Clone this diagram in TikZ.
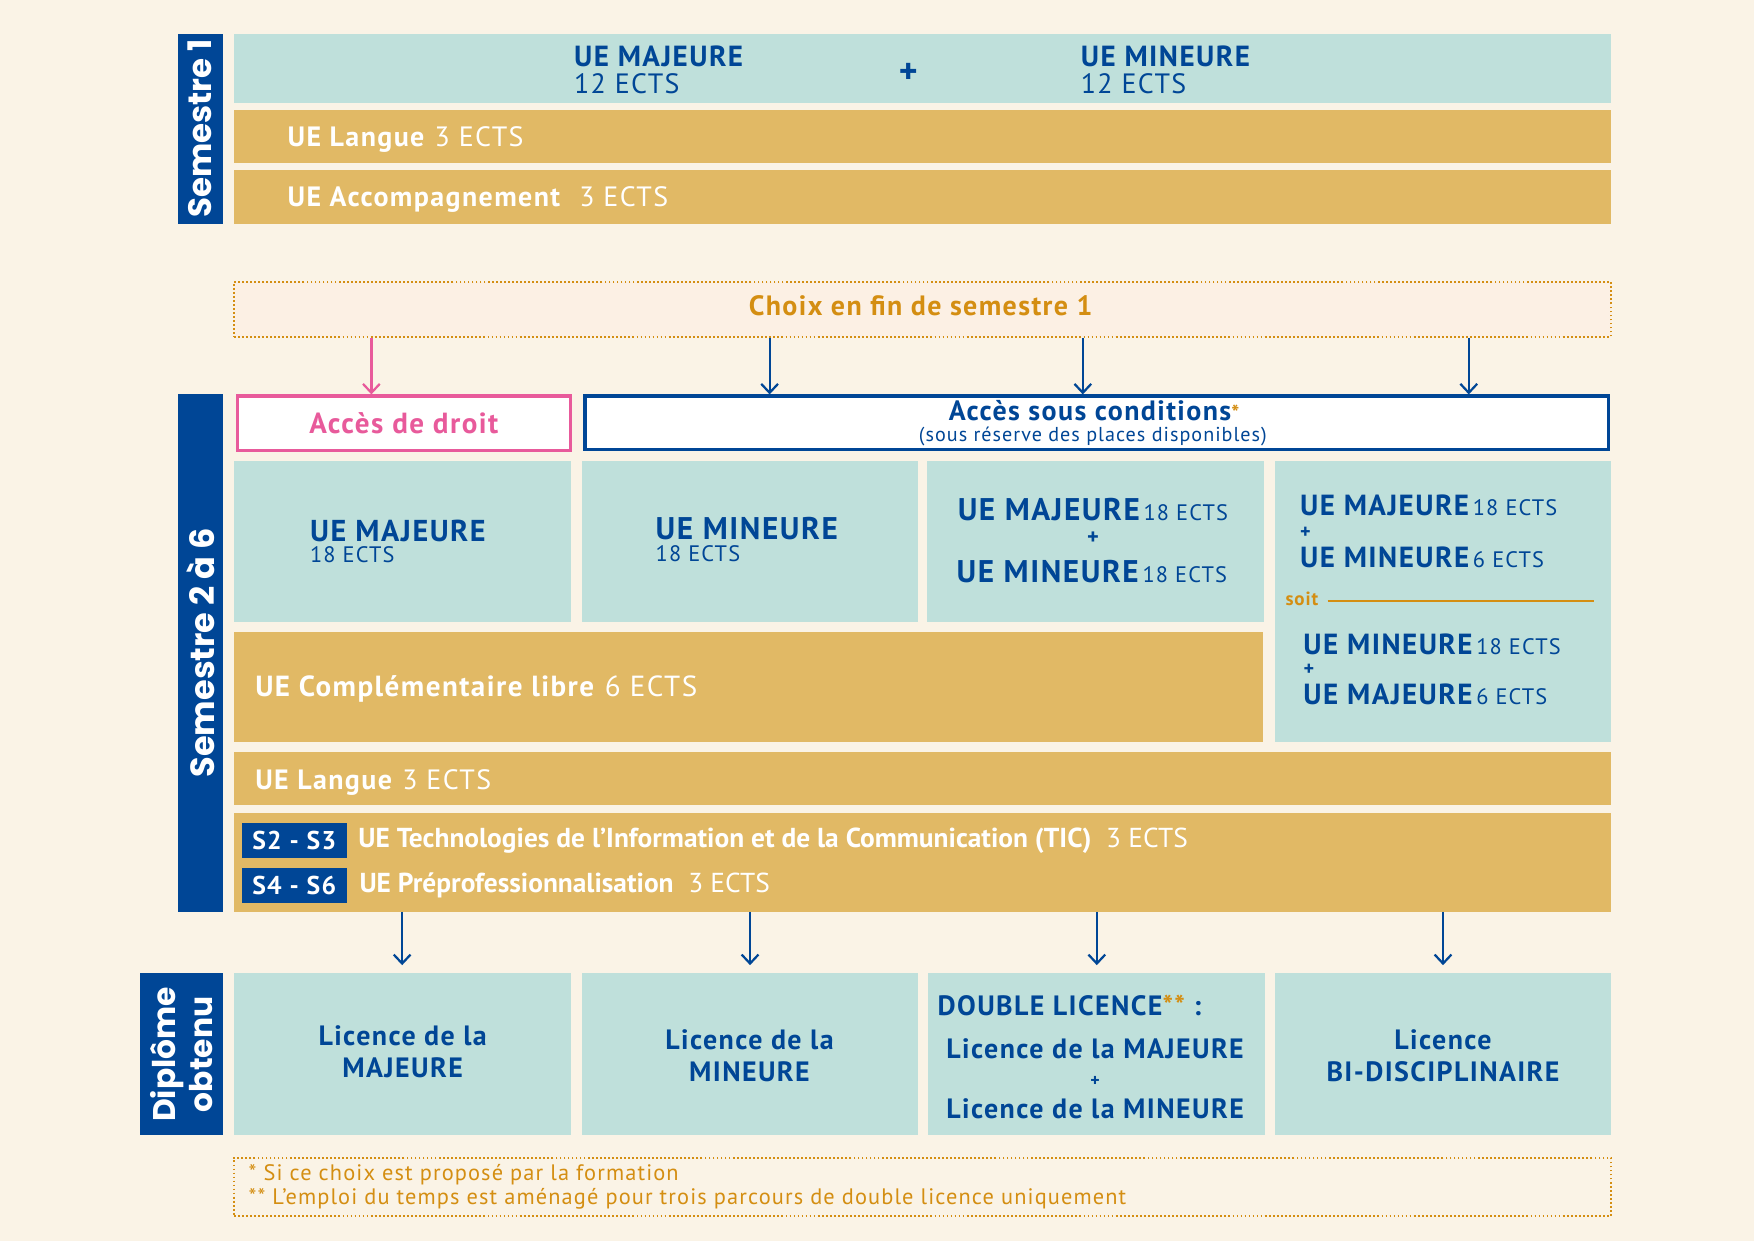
\documentclass[tikz,border=0pt]{standalone}
\usepackage{fontspec}
\setmainfont{PT Sans}[LetterSpace=5]
\newfontfamily\sidefont{Poppins}
\usetikzlibrary{arrows.meta, positioning, fit}

\definecolor{bgcream}{RGB}{250,243,230}
\definecolor{ueteal}{RGB}{191,224,219}
\definecolor{uegold}{RGB}{225,185,101}
\definecolor{uniblue}{RGB}{0,70,150}
\definecolor{accpink}{RGB}{232,90,155}
\definecolor{choixorange}{RGB}{212,142,18}
\definecolor{choixfill}{RGB}{252,240,228}

\newcommand{\fsz}[1]{\fontsize{#1}{#1}\selectfont}
\newcommand{\ects}[1]{{\fontseries{m}\fsz{20}\,#1~ECTS}}

\begin{document}
\begin{tikzpicture}[x=1pt, y=-1pt,
    tealbox/.style={fill=ueteal, inner sep=0pt},
    goldbox/.style={fill=uegold, inner sep=0pt},
    sidebar/.style={fill=uniblue, inner sep=0pt},
    dotbox/.style={draw=choixorange, fill=choixfill, dotted, line width=1.6pt, inner sep=0pt},
    accbox/.style={fill=white, line width=2.8pt, inner sep=0pt},
    goldtxt/.style={text=white, anchor=base west, inner sep=0pt, font=\fsz{25}},
    bluetxt/.style={text=uniblue, inner sep=0pt},
    sidetxt/.style={text=white, rotate=90, font=\sidefont\bfseries\fsz{30}, inner sep=0pt},
    arrow/.style={-{Straight Barb[length=8pt, width=15pt]}, line width=2pt, draw=uniblue},
    tag/.style={fill=uniblue, text=white, minimum width=94pt, minimum height=31pt, inner sep=0pt, font=\bfseries\fsz{23}},
    every node/.style={font=\fsz{25}}
  ]
  \useasboundingbox (0,0) rectangle (1568,1109);
  \fill[bgcream] (0,0) rectangle (1568,1109);

  % Semestre 1
  \node[sidebar, fit={(159,30) (199,200)}] (sem1) {};
  \node[sidetxt, font=\sidefont\bfseries\fsz{29}] (sem1lbl) at (sem1.center) {Semestre 1};
  \node[tealbox, fit={(209,30) (1440,92)}] (s1ue) {};
  \node[bluetxt, anchor=base west, font=\bfseries\fsz{26}] (s1maj) at (513,59) {UE MAJEURE};
  \node[bluetxt, anchor=base west] (s1majects) at (513,84) {12 ECTS};
  \node[bluetxt, font=\bfseries\fsz{32}] (s1plus) at (812,66) {+};
  \node[bluetxt, anchor=base west, font=\bfseries\fsz{26}] (s1min) at (966,59) {UE MINEURE};
  \node[bluetxt, anchor=base west] (s1minects) at (966,84) {12 ECTS};
  \node[goldbox, fit={(209,98) (1440,146)}] (s1lang) {};
  \node[goldtxt] (s1langlbl) at (257,131) {\textbf{UE Langue} 3 ECTS};
  \node[goldbox, fit={(209,152) (1440,200)}] (s1acc) {};
  \node[goldtxt] (s1acclbl) at (257,185) {\textbf{UE Accompagnement}\ \ 3 ECTS};

  % Choix
  \node[dotbox, fit={(209,252) (1440,301)}] (choix) {};
  \node[text=choixorange, font=\bfseries\fsz{25}, inner sep=0pt] (choixlbl) at (823,273) {Choix en fin de semestre 1};

  % Semestre 2 a 6
  \node[sidebar, fit={(159,352) (199,815)}] (sem26) {};
  \node[sidetxt] (sem26lbl) at (sem26.center) {Semestre 2 à 6};
  \node[accbox, draw=accpink, fit={(212,354) (510,403)}] (droit) {};
  \node[text=accpink, font=\bfseries\fsz{26}, inner sep=0pt] (droitlbl) at (droit.center) {Accès de droit};
  \node[accbox, draw=uniblue, fit={(523,354) (1438,402)}] (cond) {};
  \node[bluetxt, anchor=base, font=\bfseries\fsz{25}] (condlbl) at (978,376) {Accès sous conditions{\color{choixorange}\fsz{19}*}};
  \node[bluetxt, anchor=base, font=\fsz{18}] (condsub) at (977,395) {(sous réserve des places disponibles)};

  % Arrows from Choix
  \coordinate (c1) at (332,0);
  \coordinate (c2) at (688,0);
  \coordinate (c3) at (968,0);
  \coordinate (c4) at (1313,0);
  \draw[arrow, draw=accpink] (choix.south -| c1) -- (droit.north -| c1);
  \draw[arrow] (choix.south -| c2) -- (cond.north -| c2);
  \draw[arrow] (choix.south -| c3) -- (cond.north -| c3);
  \draw[arrow] (choix.south -| c4) -- (cond.north -| c4);

  % Parcours
  \node[tealbox, fit={(209,412) (510,556)}] (p1) {};
  \node[bluetxt, anchor=base west, font=\bfseries\fsz{27}] (p1maj) at (277,484) {UE MAJEURE};
  \node[bluetxt, anchor=base west, font=\fsz{20}] (p1ects) at (277,503) {18 ECTS};
  \node[tealbox, fit={(520,412) (821,556)}] (p2) {};
  \node[bluetxt, anchor=base west, font=\bfseries\fsz{28}] (p2min) at (586,482) {UE MINEURE};
  \node[bluetxt, anchor=base west, font=\fsz{20}] (p2ects) at (586,502) {18 ECTS};
  \node[tealbox, fit={(829,412) (1130,556)}] (p3) {};
  \node[bluetxt, anchor=base, font=\bfseries\fsz{28}] (p3maj) at (977,465) {UE MAJEURE\ects{18}};
  \node[bluetxt, font=\bfseries\fsz{20}] (p3plus) at (977,481) {+};
  \node[bluetxt, anchor=base, font=\bfseries\fsz{28}] (p3min) at (976,521) {UE MINEURE\ects{18}};
  \node[tealbox, fit={(1140,412) (1440,663)}] (p4) {};
  \node[bluetxt, anchor=base west, font=\bfseries\fsz{26}] (p4maj) at (1162,461) {UE MAJEURE\ects{18}};
  \node[bluetxt, font=\bfseries\fsz{18}] (p4plus) at (1167,476) {+};
  \node[bluetxt, anchor=base west, font=\bfseries\fsz{26}] (p4min) at (1162,507) {UE MINEURE\ects{6}};
  \node[text=choixorange, anchor=base west, font=\bfseries\fsz{17}, inner sep=0pt] (soit) at (1149,541) {soit};
  \draw[choixorange, line width=1.6pt] ([xshift=8pt]soit.east |- 0,537) -- (1425,537);
  \node[bluetxt, anchor=base west, font=\bfseries\fsz{26}] (p4min2) at (1165,585) {UE MINEURE\ects{18}};
  \node[bluetxt, font=\bfseries\fsz{18}] (p4plus2) at (1170,599) {+};
  \node[bluetxt, anchor=base west, font=\bfseries\fsz{26}] (p4maj2) at (1165,630) {UE MAJEURE\ects{6}};

  % UE communes
  \node[goldbox, fit={(209,565) (1129,663)}] (compl) {};
  \node[goldtxt, font=\fsz{26}] (compllbl) at (228,623) {\textbf{UE Complémentaire libre} 6 ECTS};
  \node[goldbox, fit={(209,672) (1440,720)}] (s2lang) {};
  \node[goldtxt] (s2langlbl) at (228,706) {\textbf{UE Langue} 3 ECTS};
  \node[goldbox, fit={(209,727) (1440,815)}] (tic) {};
  \node[tag] (tag23) at (263,751.5) {S2 - S3};
  \node[tag] (tag46) at (263,791.5) {S4 - S6};
  \node[goldtxt, right=10pt of tag23.east, anchor=west, font=\fsz{24.5}\addfontfeatures{LetterSpace=0}] (ticlbl) {\textbf{UE Technologies de l’Information et de la Communication (TIC)}\ \ 3 ECTS};
  \node[goldtxt, right=11pt of tag46.east, anchor=west, font=\fsz{24.5}\addfontfeatures{LetterSpace=0}] (prolbl) {\textbf{UE Préprofessionnalisation}\ \ 3 ECTS};

  % Diplome obtenu
  \node[sidebar, fit={(125,870) (199,1015)}] (dipl) {};
  \node[sidetxt, align=center, font=\sidefont\bfseries\fontsize{28}{33}\selectfont] (dipllbl) at (dipl.center) {Diplôme\\obtenu};
  \node[tealbox, fit={(209,870) (510,1015)}] (d1) {};
  \node[bluetxt, align=center, font=\bfseries\fontsize{25}{29}\selectfont] (d1lbl) at (360,940) {Licence de la\\MAJEURE};
  \node[tealbox, fit={(520,870) (821,1015)}] (d2) {};
  \node[bluetxt, align=center, font=\bfseries\fontsize{25}{29}\selectfont] (d2lbl) at (670,944) {Licence de la\\MINEURE};
  \node[tealbox, fit={(830,870) (1131,1015)}] (d3) {};
  \node[bluetxt, anchor=base west, font=\bfseries\fsz{25}] (d3dbl) at (838,908) {DOUBLE LICENCE{\color{choixorange}**} :};
  \node[bluetxt, anchor=base, font=\bfseries\fsz{25}] (d3maj) at (979,946) {Licence de la MAJEURE};
  \node[bluetxt, font=\bfseries\fsz{16}] (d3plus) at (979,967) {+};
  \node[bluetxt, anchor=base, font=\bfseries\fsz{25}] (d3min) at (979,1000) {Licence de la MINEURE};
  \node[tealbox, fit={(1140,870) (1440,1015)}] (d4) {};
  \node[bluetxt, align=center, font=\bfseries\fontsize{25}{29}\selectfont] (d4lbl) at (1290,944) {Licence\\BI-DISCIPLINAIRE};

  % Arrows to diplomas
  \draw[arrow, shorten >=7pt] (tic.south -| d1) -- (d1.north);
  \draw[arrow, shorten >=7pt] (tic.south -| d2) -- (d2.north);
  \draw[arrow, shorten >=7pt] (tic.south -| d3) -- (d3.north);
  \draw[arrow, shorten >=7pt] (tic.south -| d4) -- (d4.north);

  % Notes
  \node[dotbox, fill=none, fit={(209,1035) (1440,1087)}] (notes) {};
  \node[text=choixorange, anchor=base west, font=\fsz{20}, inner sep=0pt] (note1) at (222,1055) {* Si ce choix est proposé par la formation};
  \node[text=choixorange, anchor=base west, font=\fsz{20}, inner sep=0pt] (note2) at (222,1077) {** L’emploi du temps est aménagé pour trois parcours de double licence uniquement};
\end{tikzpicture}
\end{document}
